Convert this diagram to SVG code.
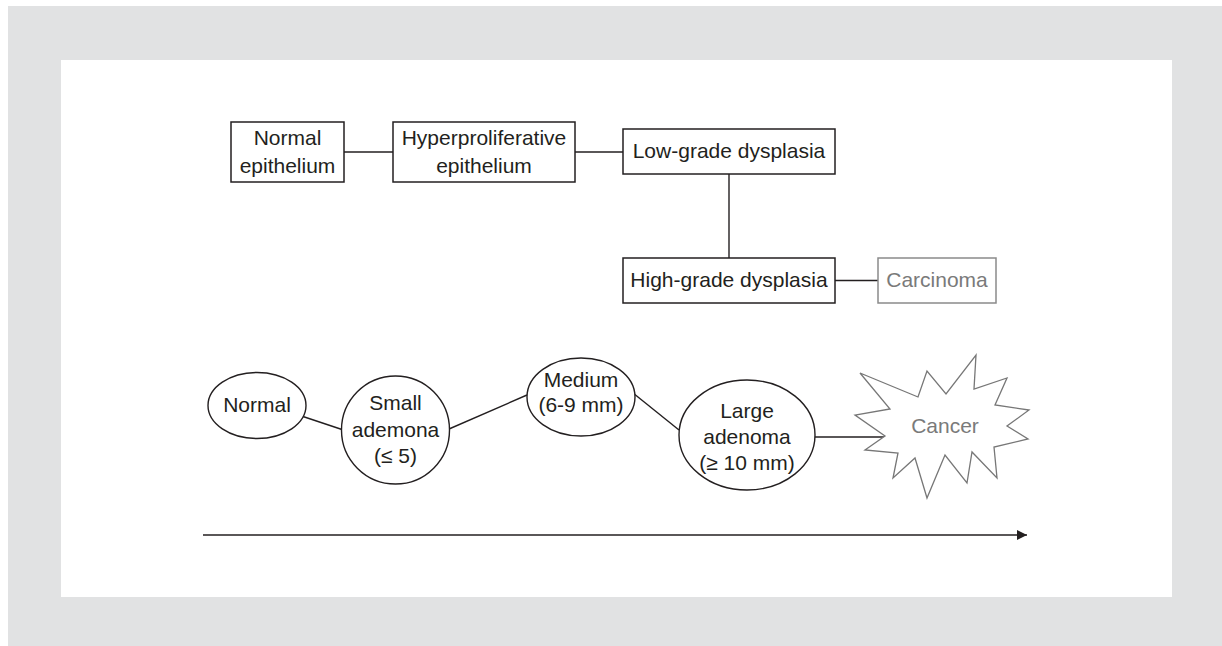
<svg xmlns="http://www.w3.org/2000/svg" width="1222" height="646" viewBox="0 0 1222 646">
<defs>
<style>
.t{font-family:"Liberation Sans",Arial,Helvetica,sans-serif;font-size:21px;fill:#231f20;text-anchor:middle}
.g{fill:#7a7a7a}
.box{fill:#fff;stroke:#231f20;stroke-width:1.5}
.gbox{fill:#fff;stroke:#8a8a8a;stroke-width:1.5}
.ell{fill:#fff;stroke:#231f20;stroke-width:1.4}
.c{fill:none;stroke:#231f20;stroke-width:1.4}
</style>
<marker id="ah" viewBox="0 0 10 10" refX="10" refY="5" markerWidth="10" markerHeight="10" markerUnits="userSpaceOnUse" orient="auto">
<path d="M0,0 L10,5 L0,10 Z" fill="#231f20"/>
</marker>
</defs>
<rect x="8" y="6" width="1214" height="640" fill="#e1e2e3"/>
<rect x="61" y="60" width="1111" height="537" fill="#ffffff"/>

<g id="connectors">
<line class="c" x1="344" y1="152" x2="393" y2="152"/>
<line class="c" x1="575" y1="152" x2="623" y2="152"/>
<line class="c" x1="729" y1="174" x2="729" y2="258"/>
<line class="c" x1="835" y1="280.5" x2="878" y2="280.5"/>
<line class="c" x1="303" y1="416.5" x2="342" y2="429.5"/>
<line class="c" x1="449" y1="429" x2="527" y2="395"/>
<line class="c" x1="633" y1="393" x2="679" y2="430"/>
<line class="c" x1="815" y1="437" x2="886" y2="437"/>
<line class="c" x1="203" y1="535" x2="1027" y2="535" marker-end="url(#ah)"/>
</g>

<g id="normal-epithelium">
<rect class="box" x="231" y="122" width="113" height="60"/>
<text class="t" x="287.5" y="145">Normal</text>
<text class="t" x="287.5" y="173">epithelium</text>
</g>
<g id="hyperproliferative">
<rect class="box" x="393" y="122" width="182" height="60"/>
<text class="t" x="484" y="145">Hyperproliferative</text>
<text class="t" x="484" y="173">epithelium</text>
</g>
<g id="low-grade">
<rect class="box" x="623" y="129" width="212" height="45"/>
<text class="t" x="729" y="158">Low-grade dysplasia</text>
</g>
<g id="high-grade">
<rect class="box" x="623" y="258" width="212" height="45"/>
<text class="t" x="729" y="287">High-grade dysplasia</text>
</g>
<g id="carcinoma">
<rect class="gbox" x="878" y="258" width="118" height="45"/>
<text class="t g" x="937" y="287">Carcinoma</text>
</g>

<g id="normal">
<ellipse class="ell" cx="257" cy="405.5" rx="49" ry="33"/>
<text class="t" x="257" y="412">Normal</text>
</g>
<g id="small-adenoma">
<ellipse class="ell" cx="395.5" cy="430" rx="54" ry="54"/>
<text class="t" x="395.5" y="410">Small</text>
<text class="t" x="395.5" y="436.5">ademona</text>
<text class="t" x="395.5" y="463">(≤ 5)</text>
</g>
<g id="medium">
<ellipse class="ell" cx="581" cy="397" rx="54" ry="39"/>
<text class="t" x="581" y="387">Medium</text>
<text class="t" x="581" y="412">(6-9 mm)</text>
</g>
<g id="large-adenoma">
<ellipse class="ell" cx="747" cy="435" rx="68" ry="55"/>
<text class="t" x="747" y="418">Large</text>
<text class="t" x="747" y="444">adenoma</text>
<text class="t" x="747" y="470">(≥ 10 mm)</text>
</g>
<g id="cancer">
<polygon points="860,373 918,397 927,371 946,394 976,355 974,389 1007,378 995,405 1029,410 1007,426 1028,439 994,447 997,478 972,452 967,483 945,455 927,498 915,458 893,478 898,453 865,450 885,436 855,415 890,409" fill="#fff" stroke="#777" stroke-width="1.3" stroke-linejoin="miter"/>
<text class="t g" x="945" y="433">Cancer</text>
</g>
</svg>
